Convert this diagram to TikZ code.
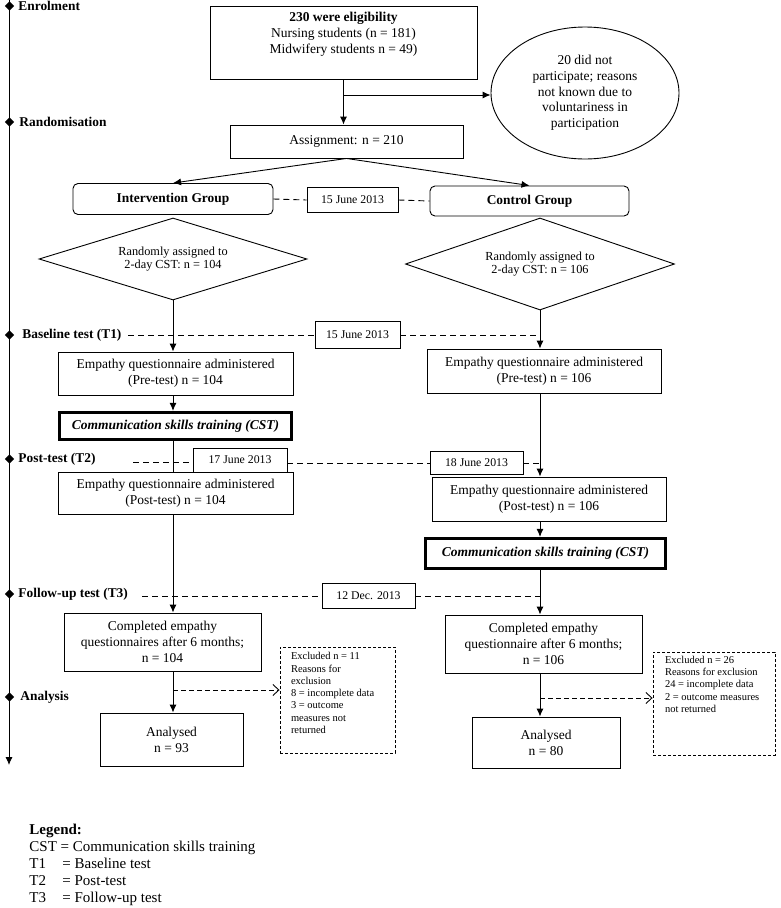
\documentclass[tikz,border=0pt]{standalone}
\usepackage{fontspec}
\setmainfont{Liberation Serif}
\usetikzlibrary{arrows.meta,shapes.geometric}

\tikzset{
  box/.style={draw, inner sep=0pt, align=center, font=\fontsize{13.5}{16}\selectfont},
  grp/.style={box, rounded corners=5pt, font=\fontsize{13.4}{16}\selectfont\bfseries},
  cst/.style={box, line width=3.2pt, font=\fontsize{13.5}{16}\selectfont\bfseries\itshape},
  datebox/.style={draw, inner sep=0pt, font=\fontsize{11.8}{14}\selectfont},
  choice/.style={draw, diamond, aspect=3.2, inner sep=0pt, align=center, font=\fontsize{12.3}{13.5}\selectfont},
  exbox/.style={draw, dash pattern=on 3pt off 2pt, inner sep=0pt, font=\fontsize{10.5}{12.3}\selectfont},
  stage/.style={anchor=west, inner sep=0pt, font=\fontsize{13.4}{16}\selectfont\bfseries},
  stagemark/.style={diamond, fill=black, inner sep=0pt, minimum size=9.5pt},
  arr/.style={-{Latex[length=8pt,width=7pt]}},
  dline/.style={dash pattern=on 6pt off 4pt},
  exarr/.style={dash pattern=on 5pt off 3pt, -{Straight Barb[length=6pt,width=11pt]}},
}

\begin{document}
\begin{tikzpicture}[x=1pt, y=-1pt, line width=0.9pt]
  \useasboundingbox (0,0) rectangle (781,908);

  % time line
  \coordinate (ttop) at (9,0);
  \coordinate (tbot) at (9,765);
  \draw[arr] (ttop) -- (tbot);
  \foreach \x/\y/\n/\t in {18/6/enr/Enrolment, 19/122/rand/Randomisation,
      22/335/base/Baseline test (T1), 18/459/post/Post-test (T2),
      18/594/fup/Follow-up test (T3), 20/697/ana/Analysis} {
    \node[stagemark] (m\n) at (9.5,\y) {};
    \node[stage] (s\n) at (\x,\y) {\t};
  }

  % enrolment
  \node[box, minimum width=267pt, minimum height=73pt] (elig) at (343.5,42.5)
    {\parbox[c][60pt][t]{260pt}{\centering\textbf{230 were eligibility}\\
     Nursing students (n = 181)\\Midwifery students n = 49)}};
  \node[draw, ellipse, inner sep=0pt, minimum width=188pt, minimum height=132pt,
    align=center, font=\fontsize{13.5}{15.7}\selectfont] (nopart) at (585,93)
    {20 did not\\participate; reasons\\not known due to\\voluntariness in\\participation};
  \node[box, minimum width=233pt, minimum height=33pt] (assign) at (346.5,141.5) {Assignment: n = 210};
  \coordinate (brk) at (343.5,95);
  \draw[arr] (elig.south) -- (elig.south |- assign.north);
  \draw[arr] (brk) -- (brk -| nopart.west);

  % groups
  \node[grp, minimum width=200pt, minimum height=31pt] (intv) at (173,199) {Intervention Group};
  \node[grp, minimum width=199pt, minimum height=30pt] (ctrl) at (529.5,201) {Control Group};
  \node[datebox, minimum width=91pt, minimum height=25pt] (dg) at (352.5,200) {15 June 2013};
  \draw[arr] (assign.south) -- (intv.north);
  \draw[arr] (assign.south) -- (ctrl.north);
  \draw[dline] (intv.east) -- (dg.west);
  \draw[dline] (dg.east) -- (ctrl.west);

  \node[choice, minimum width=268pt, minimum height=82pt] (rndL) at (173,259)
    {Randomly assigned to\\2-day CST: n = 104};
  \node[choice, minimum width=269pt, minimum height=92pt] (rndR) at (540,264)
    {Randomly assigned to\\2-day CST: n = 106};

  % intervention group
  \node[box, minimum width=235pt, minimum height=43pt] (preL) at (175.5,373.5)
    {Empathy questionnaire administered\\(Pre-test) n = 104};
  \node[cst, minimum width=232pt, minimum height=27pt] (cstL) at (175.5,426)
    {Communication skills training (CST)};
  \node[box, minimum width=235pt, minimum height=42pt] (postL) at (175.5,493)
    {Empathy questionnaire administered\\(Post-test) n = 104};
  \node[box, minimum width=197pt, minimum height=58pt] (compL) at (162.5,642)
    {Completed empathy\\questionnaires after 6 months;\\n = 104};
  \node[box, minimum width=143pt, minimum height=53pt] (anaL) at (171.5,739.5) {Analysed\\n = 93};
  \node[exbox, minimum width=115pt, minimum height=106pt] (exL) at (337.5,700)
    {\parbox[c][95pt][t]{93pt}{\raggedright Excluded n = 11\\Reasons for\\exclusion\\
     8 = incomplete data\\3 = outcome\\measures not\\returned}};

  \draw[arr] (rndL.south) -- (rndL.south |- preL.north);
  \draw[arr] (rndL.south |- preL.south) -- (rndL.south |- cstL.north);
  \draw (rndL.south |- cstL.south) -- (rndL.south |- postL.north);
  \draw[arr] (rndL.south |- postL.south) -- (rndL.south |- compL.north);
  \draw[arr] (rndL.south |- compL.south) -- (rndL.south |- anaL.north);
  \coordinate (xL) at (173,690);
  \draw[exarr] (xL) -- (xL -| exL.west);

  % control group
  \node[box, minimum width=234pt, minimum height=44pt] (preR) at (544,371)
    {Empathy questionnaire administered\\(Pre-test) n = 106};
  \node[box, minimum width=234pt, minimum height=44pt] (postR) at (549,499)
    {Empathy questionnaire administered\\(Post-test) n = 106};
  \node[cst, minimum width=240pt, minimum height=30pt] (cstR) at (545.5,553.5)
    {Communication skills training (CST)};
  \node[box, minimum width=197pt, minimum height=58pt] (compR) at (543.5,644)
    {Completed empathy\\questionnaire after 6 months;\\n = 106};
  \node[box, minimum width=148pt, minimum height=51pt] (anaR) at (546,742.5) {Analysed\\n = 80};
  \node[exbox, minimum width=122pt, minimum height=103pt] (exR) at (714,703.5)
    {\parbox[c][95pt][t]{98pt}{\raggedright Excluded n = 26\\Reasons for exclusion\\
     24 = incomplete data\\2 = outcome measures\\not returned}};

  \draw[arr] (rndR.south) -- (rndR.south |- preR.north);
  \draw[arr] (rndR.south |- preR.south) -- (rndR.south |- postR.north);
  \draw[arr] (rndR.south |- postR.south) -- (rndR.south |- cstR.north);
  \draw[arr] (rndR.south |- cstR.south) -- (rndR.south |- compR.north);
  \draw[arr] (rndR.south |- compR.south) -- (rndR.south |- anaR.north);
  \coordinate (xR) at (540,698);
  \draw[exarr] (xR) -- (xR -| exR.west);

  % test dates
  \node[datebox, minimum width=85pt, minimum height=27pt] (d1) at (357.5,335) {15 June 2013};
  \node[datebox, minimum width=94pt, minimum height=24pt] (d2) at (240,460) {17 June 2013};
  \node[datebox, minimum width=93pt, minimum height=23pt] (d3) at (476.5,463) {18 June 2013};
  \node[datebox, minimum width=93pt, minimum height=25pt] (d4) at (368.5,596) {12 Dec. 2013};
  \coordinate (bB) at (128,335);
  \coordinate (bP) at (133,462);
  \coordinate (bF) at (142,596);
  \draw[dline] (bB) -- (d1.west);
  \draw[dline] (d1.east) -- (d1.east -| rndR.south);
  \draw[dline] (bP) -- (bP -| d2.west);
  \draw[dline] (d2.east |- d3.west) -- (d3.west);
  \draw[dline] (d3.east) -- (d3.east -| rndR.south);
  \draw[dline] (bF) -- (d4.west);
  \draw[dline] (d4.east) -- (d4.east -| rndR.south);

  % legend
  \node[anchor=north west, inner sep=0pt, align=left, font=\fontsize{15}{17}\selectfont] (legend) at (29,824)
    {\textbf{Legend:}\\CST = Communication skills training\\
     \makebox[33pt][l]{T1}= Baseline test\\\makebox[33pt][l]{T2}= Post-test\\
     \makebox[33pt][l]{T3}= Follow-up test};
\end{tikzpicture}
\end{document}
